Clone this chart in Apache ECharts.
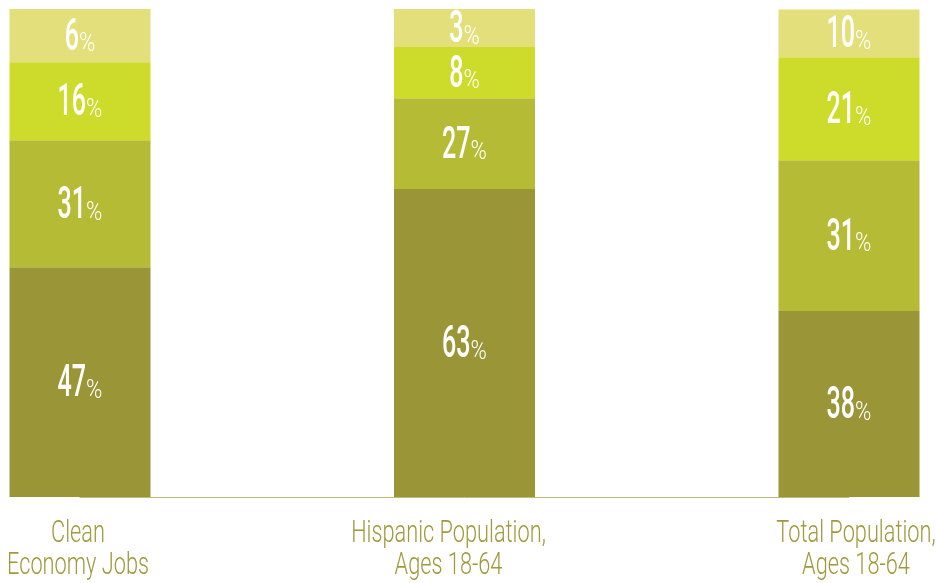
<!DOCTYPE html>
<html>
<head>
<meta charset="utf-8">
<script src="https://cdn.jsdelivr.net/npm/echarts@6/dist/echarts.min.js"></script>
<style>
  html, body { margin: 0; padding: 0; background: #fff; }
  #chart { width: 937px; height: 583px; }
</style>
</head>
<body>
<div id="chart"></div>
<script>
// categories on the x axis
var categories = ['Clean\nEconomy Jobs', 'Hispanic Population,\nAges 18-64', 'Total Population,\nAges 18-64'];

// printed percentages, bottom tier to top tier
var bottomPct = [47, 63, 38];
var secondPct = [31, 27, 31];
var thirdPct = [16, 8, 21];
var topPct = [6, 3, 10];

// segment heights as drawn in the picture (small segments were enlarged by the artist)
var bottomH = [47.1, 63.1, 38.1];
var secondH = [26.0, 18.6, 30.9];
var thirdH = [16.0, 10.5, 21.1];
var topH = [10.9, 7.8, 9.8];

var tierColors = ['#9a9536', '#b6bb35', '#cddc2a', '#e3e07c'];
var tierHeights = [bottomH, secondH, thirdH, topH];
var tierPcts = [bottomPct, secondPct, thirdPct, topPct];

// category names are not quite centred under the bars in the original
var catLabelDx = [-2, -16, 7];

// the original uses a very condensed face, so text is squeezed horizontally
var FONT = 'Roboto';
var measureCtx = document.createElement('canvas').getContext('2d');
function textWidth(str, weight, size) {
    measureCtx.font = weight + ' ' + size + 'px ' + FONT;
    return measureCtx.measureText(str).width;
}

function barSeries(i) {
    return {
        name: 'tier' + i,
        type: 'bar',
        stack: 'total',
        barWidth: 141,
        itemStyle: { color: tierColors[i] },
        data: tierHeights[i]
    };
}

// label items: [category index, tier index]
var labelItems = [];
categories.forEach(function(c, ci) {
    for (var t = 0; t < 4; t++) labelItems.push([ci, t]);
});

function renderSegLabel(params, api) {
    var ci = api.value(0), t = api.value(1);
    var base = 0;
    for (var k = 0; k < t; k++) base += tierHeights[k][ci];
    var mid = base + tierHeights[t][ci] / 2;
    var pt = api.coord([ci, mid]);
    var num = String(tierPcts[t][ci]);
    var numSize = 44, pctSize = 26, numScale = 0.57, pctScale = 0.85;
    var numW = textWidth(num, '500', numSize) * numScale;
    var pctW = textWidth('%', '300', pctSize) * pctScale;
    var left = pt[0] - (numW + pctW) / 2;
    var cy = pt[1] + 3;
    return {
        type: 'group',
        children: [{
            type: 'text',
            x: left,
            y: cy,
            scaleX: numScale,
            style: {
                text: num, fill: '#fff', fontFamily: FONT, fontWeight: 500,
                fontSize: numSize, align: 'left', verticalAlign: 'middle'
            }
        }, {
            type: 'text',
            x: left + numW,
            y: cy + 0.35 * (numSize - pctSize),
            scaleX: pctScale,
            style: {
                text: '%', fill: '#fff', fontFamily: FONT, fontWeight: 300,
                fontSize: pctSize, align: 'left', verticalAlign: 'middle'
            }
        }]
    };
}

function renderCatLabel(params, api) {
    var ci = api.value(0);
    var pt = api.coord([ci, 0]);
    return {
        type: 'text',
        x: pt[0] + catLabelDx[ci],
        y: pt[1] + 21,
        scaleX: 0.68,
        style: {
            text: categories[ci], fill: '#a09a3c', fontFamily: FONT, fontWeight: 300,
            fontSize: 32, lineHeight: 32, align: 'center', verticalAlign: 'top'
        }
    };
}

var myChart = echarts.init(document.getElementById('chart'));
var option = {
    animation: false,
    grid: { left: 80, right: 88, top: 9, bottom: 86, containLabel: false, outerBoundsMode: 'none' },
    xAxis: {
        type: 'category',
        boundaryGap: false,
        data: categories,
        axisLine: { lineStyle: { color: '#bdb978', width: 1 } },
        axisTick: { show: false },
        axisLabel: { show: false }
    },
    yAxis: {
        type: 'value',
        min: 0,
        max: 100,
        show: false
    },
    series: [
        barSeries(0), barSeries(1), barSeries(2), barSeries(3),
        {
            type: 'custom',
            name: 'segLabels',
            renderItem: renderSegLabel,
            data: labelItems,
            z: 10
        },
        {
            type: 'custom',
            name: 'catLabels',
            renderItem: renderCatLabel,
            data: categories.map(function(c, i) { return [i, 0]; }),
            clip: false,
            z: 10
        }
    ]
};
myChart.setOption(option);
</script>
</body>
</html>
